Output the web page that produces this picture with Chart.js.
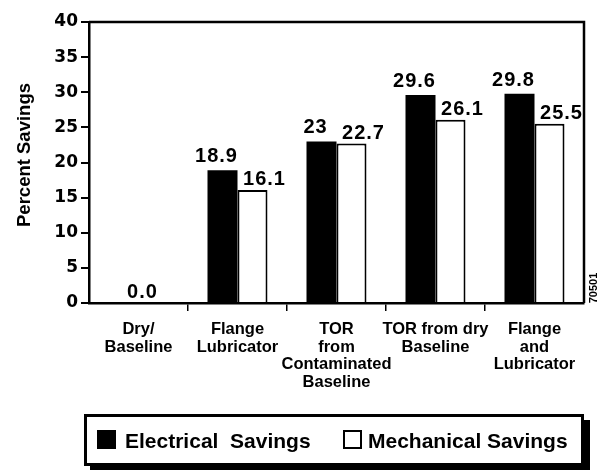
<!DOCTYPE html>
<html>
<head>
<meta charset="utf-8">
<script src="https://cdn.jsdelivr.net/npm/chart.js@4.4.1/dist/chart.umd.min.js"></script>
<style>
  html, body { margin: 0; padding: 0; background: #fff; }
  #wrap { width: 599px; height: 470px; position: relative; }
</style>
</head>
<body>
<div id="wrap"><canvas id="c" width="599" height="470"></canvas></div>
<script>
const categories = [
  ["Dry/", "Baseline"],
  ["Flange", "Lubricator"],
  ["TOR", "from", "Contaminated", "Baseline"],
  ["TOR from dry", "Baseline"],
  ["Flange", "and", "Lubricator"]
];
const seriesNames = ["Electrical  Savings", "Mechanical Savings"];
const electrical = [0, 18.9, 23, 29.6, 29.8];
const mechanical = [0, 16.1, 22.7, 26.1, 25.5];
const electricalLabels = ["0.0", "18.9", "23", "29.6", "29.8"];
const mechanicalLabels = ["", "16.1", "22.7", "26.1", "25.5"];
const yMin = 0, yMax = 40, yStep = 5;
const yTitle = "Percent Savings";
const figureCode = "70501";

const FONT = "'Liberation Sans', Arial, sans-serif";
const TICKFONT = "'DejaVu Sans', sans-serif";

const decorPlugin = {
  id: 'decor',
  afterDatasetsDraw(chart) {
    const ctx = chart.ctx;
    const ca = chart.chartArea;
    ctx.save();
    ctx.strokeStyle = '#000';
    ctx.lineWidth = 2.5;
    ctx.beginPath();
    ctx.moveTo(ca.left, ca.top);
    ctx.lineTo(ca.right, ca.top);
    ctx.lineTo(ca.right, ca.bottom);
    ctx.stroke();

    const mE = chart.getDatasetMeta(0);
    const mM = chart.getDatasetMeta(1);
    ctx.fillStyle = '#000';
    ctx.font = "bold 20px " + FONT;
    ctx.letterSpacing = '1px';
    ctx.textAlign = 'center';
    ctx.textBaseline = 'alphabetic';
    mE.data.forEach((bar, i) => {
      const lab = electricalLabels[i];
      if (!lab) return;
      if (!mechanicalLabels[i]) {
        const mid = (bar.x + mM.data[i].x) / 2;
        ctx.fillText(lab, mid + 4, bar.y - 5);
      } else {
        ctx.fillText(lab, bar.x - 6, bar.y - 8);
      }
    });
    mM.data.forEach((bar, i) => {
      const lab = mechanicalLabels[i];
      if (!lab) return;
      ctx.fillText(lab, bar.x + 12, bar.y - 5);
    });
    ctx.restore();
  },
  afterDraw(chart) {
    const ctx = chart.ctx;
    ctx.save();
    ctx.fillStyle = '#000';
    ctx.font = "bold 18.5px " + FONT;
    ctx.textAlign = 'center';
    ctx.textBaseline = 'middle';
    ctx.translate(25, 155);
    ctx.rotate(-Math.PI / 2);
    ctx.fillText(yTitle, 0, 0);
    ctx.restore();

    ctx.save();
    ctx.fillStyle = '#000';
    ctx.font = "bold 11px " + FONT;
    ctx.textAlign = 'center';
    ctx.textBaseline = 'middle';
    ctx.translate(594, 288);
    ctx.rotate(-Math.PI / 2);
    ctx.fillText(figureCode, 0, 0);
    ctx.restore();

    ctx.save();
    const lx = 84, ly = 414, lw = 500, lh = 52;
    ctx.fillStyle = '#000';
    ctx.fillRect(lx + 6, ly + 6, lw, lh);
    ctx.fillStyle = '#fff';
    ctx.fillRect(lx, ly, lw, lh);
    ctx.strokeStyle = '#000';
    ctx.lineWidth = 3;
    ctx.strokeRect(lx + 1.5, ly + 1.5, lw - 3, lh - 3);
    const ds = chart.data.datasets;
    const items = [{x: 97, tx: 125}, {x: 343, tx: 368}];
    ctx.font = "bold 21px " + FONT;
    ctx.textAlign = 'left';
    ctx.textBaseline = 'alphabetic';
    items.forEach((it, k) => {
      ctx.fillStyle = ds[k].backgroundColor;
      ctx.fillRect(it.x, 430, 19, 19);
      if (ds[k].borderWidth) {
        ctx.strokeStyle = '#000';
        ctx.lineWidth = 2;
        ctx.strokeRect(it.x + 1, 431, 17, 17);
      }
      ctx.fillStyle = '#000';
      ctx.fillText(ds[k].label, it.tx, 447.5);
    });
    ctx.restore();
  }
};

new Chart(document.getElementById('c'), {
  type: 'bar',
  data: {
    labels: categories,
    datasets: [
      { label: seriesNames[0], data: electrical, backgroundColor: '#000000', borderWidth: 0 },
      { label: seriesNames[1], data: mechanical, backgroundColor: '#ffffff', borderColor: '#000000', borderWidth: 2 }
    ]
  },
  options: {
    responsive: false,
    animation: false,
    devicePixelRatio: 1,
    datasets: { bar: { categoryPercentage: 0.606, barPercentage: 1.0 } },
    layout: { padding: { top: 22, right: 15, left: 0, bottom: 0 } },
    plugins: { legend: { display: false }, tooltip: { enabled: false }, title: { display: false } },
    scales: {
      x: {
        afterFit(scale) { scale.height = 167; },
        grid: {
          offset: true,
          drawOnChartArea: false,
          drawTicks: true,
          tickLength: 8,
          lineWidth: 1.5,
          color: (c) => (c.type === 'tick' && c.index > 0) ? '#000' : 'rgba(0,0,0,0)'
        },
        border: { display: true, color: '#000', width: 2.5 },
        ticks: {
          autoSkip: false,
          maxRotation: 0,
          minRotation: 0,
          padding: 10,
          color: '#000',
          font: { family: FONT, weight: 'bold', size: 16.5, lineHeight: 1.06 }
        }
      },
      y: {
        min: yMin,
        max: yMax,
        afterFit(scale) { scale.width = 89; },
        grid: {
          drawOnChartArea: false,
          drawTicks: true,
          tickLength: 8,
          lineWidth: 2,
          color: '#000'
        },
        border: { display: true, color: '#000', width: 2.5 },
        ticks: {
          stepSize: yStep,
          padding: 3,
          color: '#000',
          font: { family: TICKFONT, weight: 'bold', size: 17 }
        }
      }
    }
  },
  plugins: [decorPlugin]
});
</script>
</body>
</html>
